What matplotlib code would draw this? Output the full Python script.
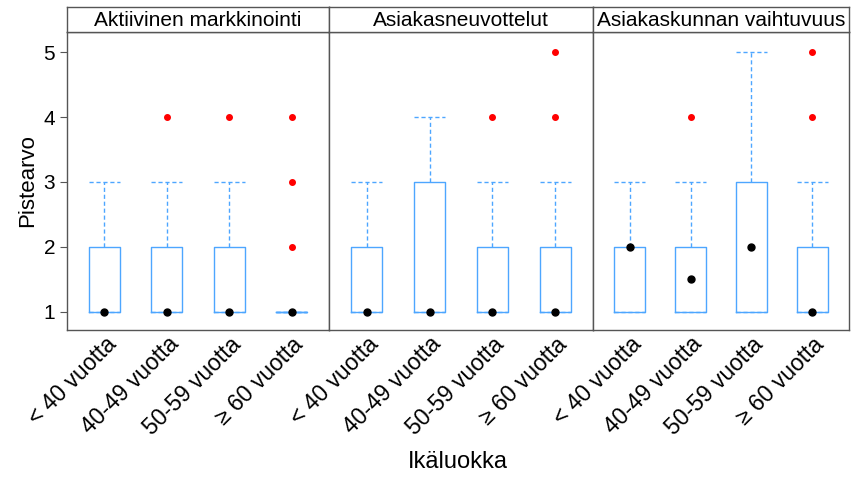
import matplotlib
matplotlib.use("Agg")
import matplotlib.pyplot as plt
import numpy as np

plt.rcParams['font.family'] = ['Liberation Sans', 'DejaVu Sans']

panels = ["Aktiivinen markkinointi", "Asiakasneuvottelut", "Asiakaskunnan vaihtuvuus"]
age_groups = ["< 40 vuotta", "40-49 vuotta", "50-59 vuotta", "\u2265 60 vuotta"]

# per panel, per age group: lower whisker, Q1, median, Q3, upper whisker
whislo = [[1, 1, 1, 1], [1, 1, 1, 1], [1, 1, 1, 1]]
q1 = [[1, 1, 1, 1], [1, 1, 1, 1], [1, 1, 1, 1]]
med = [[1, 1, 1, 1], [1, 1, 1, 1], [2, 1.5, 2, 1]]
q3 = [[2, 2, 2, 1], [2, 3, 2, 2], [2, 2, 3, 2]]
whishi = [[3, 3, 3, 1], [3, 4, 3, 3], [3, 3, 5, 3]]
outliers = [[[], [4], [4], [2, 3, 4]],
            [[], [], [4], [4, 5]],
            [[], [4], [], [4, 5]]]

blue = "#4da6ff"
W, H = 851, 478
fig = plt.figure(figsize=(W / 100, H / 100), dpi=100)

edges = [67, 329, 593, 849]
top, bottom, strip_top = 32, 330, 7

for i, name in enumerate(panels):
    x0, x1 = edges[i], edges[i + 1]
    ax = fig.add_axes([x0 / W, 1 - bottom / H, (x1 - x0) / W, (bottom - top) / H])
    stats = []
    for j in range(4):
        stats.append(dict(whislo=whislo[i][j], q1=q1[i][j], med=med[i][j],
                          q3=q3[i][j], whishi=whishi[i][j], fliers=outliers[i][j]))
    pos = np.arange(1, 5)
    ax.bxp(stats, positions=pos, widths=0.5, showfliers=True,
           boxprops=dict(color=blue, linewidth=1),
           whiskerprops=dict(color=blue, linewidth=1, linestyle=(0, (3, 2))),
           capprops=dict(color=blue, linewidth=1, linestyle=(0, (3, 2))),
           medianprops=dict(linewidth=0),
           flierprops=dict(marker="o", markersize=4, markerfacecolor="red",
                           markeredgecolor="red"),
           capwidths=0.5)
    ax.plot(pos, med[i], "o", color="black", markersize=5, zorder=5)
    ax.set_xlim(0.4, 4.6)
    ax.set_ylim(0.72, 5.31)
    ax.set_xticks(pos)
    ax.set_xticklabels(age_groups, rotation=45, ha="right", rotation_mode="anchor",
                       fontsize=16.5)
    ax.tick_params(axis="x", length=0, pad=2)
    if i == 0:
        ax.set_yticks([1, 2, 3, 4, 5])
        ax.tick_params(axis="y", labelsize=15, length=5, color="#555555")
        ax.set_ylabel("Pistearvo", fontsize=16)
    else:
        ax.set_yticks([])
    for s in ax.spines.values():
        s.set_color("#555555")
        s.set_linewidth(1)

    sax = fig.add_axes([x0 / W, 1 - top / H, (x1 - x0) / W, (top - strip_top) / H])
    sax.set_xticks([])
    sax.set_yticks([])
    for s in sax.spines.values():
        s.set_color("#555555")
        s.set_linewidth(1)
    sax.text(0.5, 0.45, name, ha="center", va="center", fontsize=15,
             transform=sax.transAxes)

fig.text((67 + 849) / 2 / W, 1 - 462 / H, "Ikäluokka", ha="center", va="center",
         fontsize=17)

fig.savefig("out.png", dpi=100)
